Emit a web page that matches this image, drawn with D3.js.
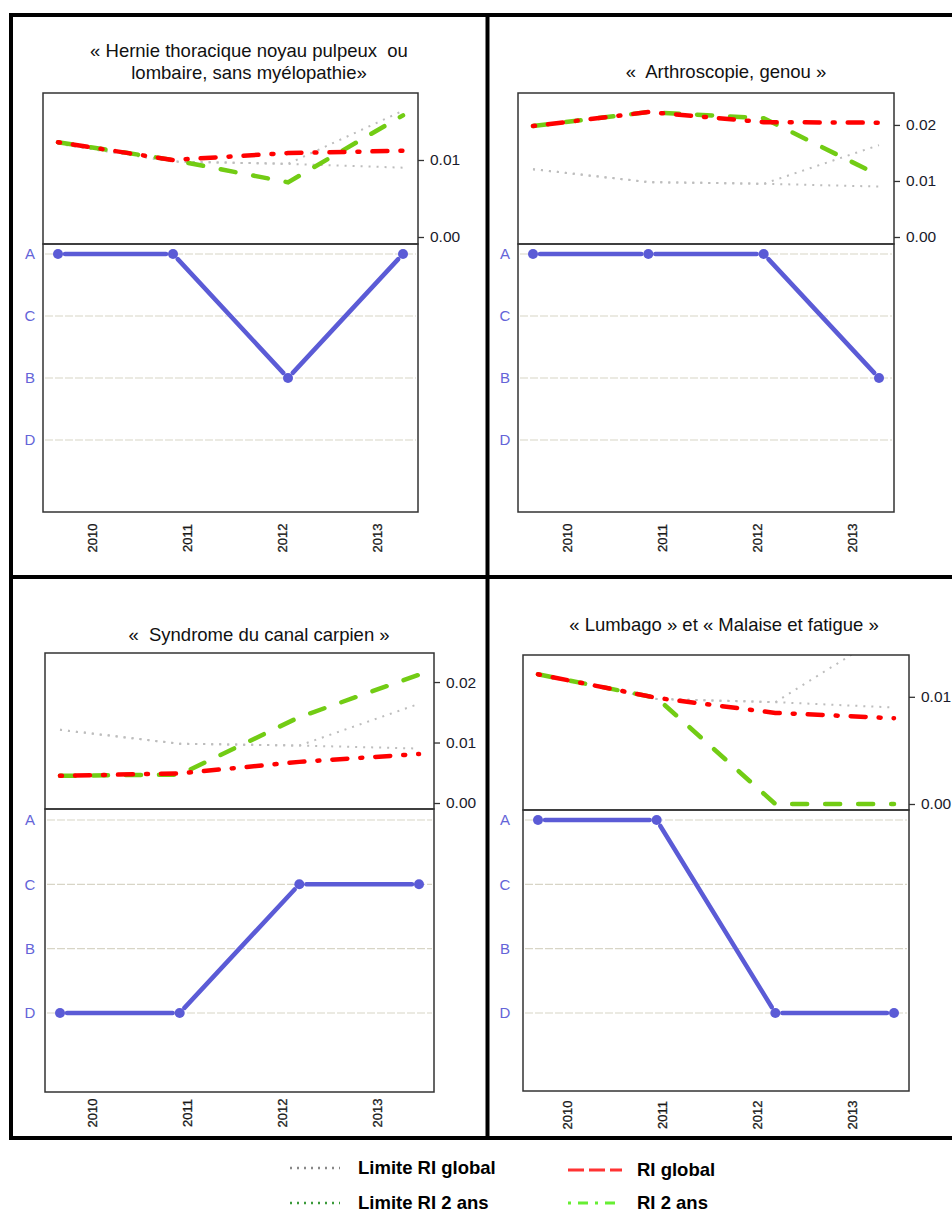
<!DOCTYPE html>
<html>
<head>
<meta charset="utf-8">
<script src="https://cdn.jsdelivr.net/npm/d3@7"></script>
<style>
  body { margin: 0; background: #fff; }
  svg { display: block; font-family: "Liberation Sans", Arial, sans-serif; }
</style>
</head>
<body>
<div id="chart"></div>
<script>
// données
const years = [2010, 2011, 2012, 2013];
const yearLabels = ["2010", "2011", "2012", "2013"];
const titles = [
  ["« Hernie thoracique noyau pulpeux  ou", "lombaire, sans myélopathie»"],
  ["«  Arthroscopie, genou »"],
  ["«  Syndrome du canal carpien »"],
  ["« Lumbago » et « Malaise et fatigue »"]
];
const limiteGlobal = [0.0121, 0.0098, 0.0095, 0.0090];
const limite2ans   = [0.0121, 0.0098, 0.0095, 0.0164];
const riGlobal = [
  [0.0123, 0.0100, 0.0109, 0.0112],
  [0.0198, 0.0223, 0.0205, 0.0204],
  [0.0045, 0.0049, 0.0068, 0.0081],
  [0.0121, 0.0099, 0.0085, 0.0080]
];
const ri2ans = [
  [0.0123, 0.0100, 0.0071, 0.0158],
  [0.0198, 0.0223, 0.0212, 0.0110],
  [0.0045, 0.0047, 0.0142, 0.0212],
  [0.0121, 0.0099, 0.0000, 0.0000]
];
const classes = [
  ["A", "A", "B", "A"],
  ["A", "A", "A", "B"],
  ["D", "D", "C", "C"],
  ["A", "A", "D", "D"]
];
const classLevels = ["A", "C", "B", "D"];
const yTicks = [[0, 0.01], [0, 0.01, 0.02], [0, 0.01, 0.02], [0, 0.01]];

// mise en page des 4 panneaux
const panels = [
  { x0: 43,  x1: 418, top: 93,  mid: 244, bot: 512,  yDom: [-0.00091, 0.0187], cat: [254, 440],  catX: 30,  lab: [92, 377],  labY: 538,  tx: 249, ty: [57, 79] },
  { x0: 518, x1: 894, top: 93,  mid: 244, bot: 512,  yDom: [-0.00125, 0.0257], cat: [254, 440],  catX: 505, lab: [567, 852], labY: 538,  tx: 726, ty: [78] },
  { x0: 45,  x1: 434, top: 653, mid: 809, bot: 1092, yDom: [-0.00099, 0.0248], cat: [820, 1013], catX: 30,  lab: [92, 377],  labY: 1113, tx: 259, ty: [641] },
  { x0: 523, x1: 909, top: 655, mid: 810, bot: 1091, yDom: [-0.00056, 0.0139], cat: [820, 1013], catX: 505, lab: [567, 852], labY: 1115, tx: 724, ty: [631] }
];

const W = 952, H = 1212;
const blue = "#5b5bd6", red = "#ff0000", green = "#72cc14", limGray = "#bdbdbd";

const svg = d3.select("#chart").append("svg")
  .attr("width", W).attr("height", H);

panels.forEach((p, i) => {
  const g = svg.append("g");
  const x = d3.scalePoint().domain(years).range([p.x0 + 15, p.x1 - 15]);
  const y = d3.scaleLinear().domain(p.yDom).range([p.mid, p.top]);
  const yc = d3.scalePoint().domain(classLevels).range(p.cat);
  const xl = d3.scalePoint().domain(yearLabels).range(p.lab);

  // titre
  titles[i].forEach((t, k) => {
    g.append("text")
      .attr("x", p.tx).attr("y", p.ty[k])
      .attr("text-anchor", "middle")
      .style("white-space", "pre")
      .style("font-size", "18.5px").style("fill", "#111")
      .text(t);
  });

  // panneau haut
  const clipId = "clip" + i;
  svg.append("clipPath").attr("id", clipId)
    .append("rect").attr("x", p.x0).attr("y", p.top)
    .attr("width", p.x1 - p.x0).attr("height", p.mid - p.top);

  const line = d3.line().x((d, j) => x(years[j])).y(d => y(d));
  const lines = g.append("g").attr("clip-path", `url(#${clipId})`);

  [limite2ans, limiteGlobal].forEach(s => {
    lines.append("path").datum(s).attr("d", line)
      .attr("fill", "none").attr("stroke", limGray)
      .attr("stroke-width", 2).attr("stroke-dasharray", "2,6");
  });
  lines.append("path").datum(ri2ans[i]).attr("d", line)
    .attr("fill", "none").attr("stroke", green)
    .attr("stroke-width", 4.5).attr("stroke-dasharray", "15,18")
    .attr("stroke-linecap", "round");
  lines.append("path").datum(riGlobal[i]).attr("d", line)
    .attr("fill", "none").attr("stroke", red)
    .attr("stroke-width", 4.5).attr("stroke-dasharray", "2,13,15,13")
    .attr("stroke-linecap", "round");

  g.append("rect")
    .attr("x", p.x0).attr("y", p.top)
    .attr("width", p.x1 - p.x0).attr("height", p.mid - p.top)
    .attr("fill", "none").attr("stroke", "#333").attr("stroke-width", 1.5);

  // axe de droite
  const ax = g.append("g")
    .attr("transform", `translate(${p.x1},0)`)
    .call(d3.axisRight(y).tickValues(yTicks[i]).tickFormat(d3.format(".2f"))
      .tickSize(6).tickPadding(6));
  ax.select(".domain").remove();
  ax.selectAll("line").attr("stroke", "#333").attr("stroke-width", 1.3);
  ax.selectAll("text").style("font-size", "15.5px").attr("fill", "#1a1a2a")
    .attr("font-family", "Liberation Sans, Arial, sans-serif");

  // panneau bas : grilles
  g.selectAll(".grid").data(classLevels).enter().append("line")
    .attr("x1", p.x0 + 2).attr("x2", p.x1 - 2)
    .attr("y1", d => yc(d)).attr("y2", d => yc(d))
    .attr("stroke", "#d8d5c6").attr("stroke-width", 1.2)
    .attr("stroke-dasharray", "8,2");

  g.selectAll(".cat").data(classLevels).enter().append("text")
    .attr("x", p.catX).attr("y", d => yc(d))
    .attr("dy", "0.35em").attr("text-anchor", "middle")
    .style("font-size", "15px").style("fill", "#6464d8")
    .text(d => d);

  // segments avec un petit écart autour des points
  const pts = classes[i].map((c, j) => ({ x: x(years[j]), y: yc(c) }));
  const segs = d3.pairs(pts).map(([a, b]) => {
    const dx = b.x - a.x, dy = b.y - a.y, L = Math.hypot(dx, dy), gap = 7;
    return { x1: a.x + dx / L * gap, y1: a.y + dy / L * gap, x2: b.x - dx / L * gap, y2: b.y - dy / L * gap };
  });
  g.selectAll(".seg").data(segs).enter().append("line")
    .attr("x1", d => d.x1).attr("y1", d => d.y1)
    .attr("x2", d => d.x2).attr("y2", d => d.y2)
    .attr("stroke", blue).attr("stroke-width", 4.5)
    .attr("stroke-linecap", "round");
  g.selectAll(".pt").data(pts).enter().append("circle")
    .attr("cx", d => d.x).attr("cy", d => d.y).attr("r", 5)
    .attr("fill", blue);

  g.append("rect")
    .attr("x", p.x0).attr("y", p.mid)
    .attr("width", p.x1 - p.x0).attr("height", p.bot - p.mid)
    .attr("fill", "none").attr("stroke", "#333").attr("stroke-width", 1.5);

  // années (verticales)
  g.selectAll(".yr").data(yearLabels).enter().append("text")
    .attr("transform", d => `translate(${xl(d)},${p.labY}) rotate(-90)`)
    .attr("text-anchor", "middle").attr("dy", "0.35em")
    .style("font-size", "13px").style("fill", "#1a1a1a")
    .style("stroke", "#1a1a1a").style("stroke-width", 0.3)
    .text(d => d);
});

// cadre noir
const frame = [
  [11, 15, W, 15], [11, 15, 11, 1138], [487.5, 15, 487.5, 1138],
  [11, 577, W, 577], [11, 1138, W, 1138]
];
svg.selectAll(".frame").data(frame).enter().append("line")
  .attr("x1", d => d[0]).attr("y1", d => d[1])
  .attr("x2", d => d[2]).attr("y2", d => d[3])
  .attr("stroke", "#000").attr("stroke-width", 4)
  .attr("stroke-linecap", "square");

// légende
const legend = [
  { label: "Limite RI global", x: 290, y: 1168, color: "#888", dash: "2,5", w: 2.5, len: 50 },
  { label: "Limite RI 2 ans", x: 290, y: 1203, color: "#3a9a3a", dash: "2,5", w: 2.5, len: 50 },
  { label: "RI global", x: 568, y: 1170, color: "#ff3333", dash: "16,5", w: 3, len: 54 },
  { label: "RI 2 ans", x: 568, y: 1203, color: "#66ee33", dash: "3,7,10,7", w: 3, len: 50 }
];
const lg = svg.selectAll(".leg").data(legend).enter().append("g");
lg.append("line")
  .attr("x1", d => d.x).attr("x2", d => d.x + d.len)
  .attr("y1", d => d.y).attr("y2", d => d.y)
  .attr("stroke", d => d.color).attr("stroke-width", d => d.w)
  .attr("stroke-dasharray", d => d.dash);
lg.append("text")
  .attr("x", d => d.x + (d.x < 500 ? 68 : 69)).attr("y", d => d.y)
  .attr("dy", "0.35em")
  .style("font-size", "18.5px").style("font-weight", "bold").style("fill", "#000")
  .text(d => d.label);
</script>
</body>
</html>
